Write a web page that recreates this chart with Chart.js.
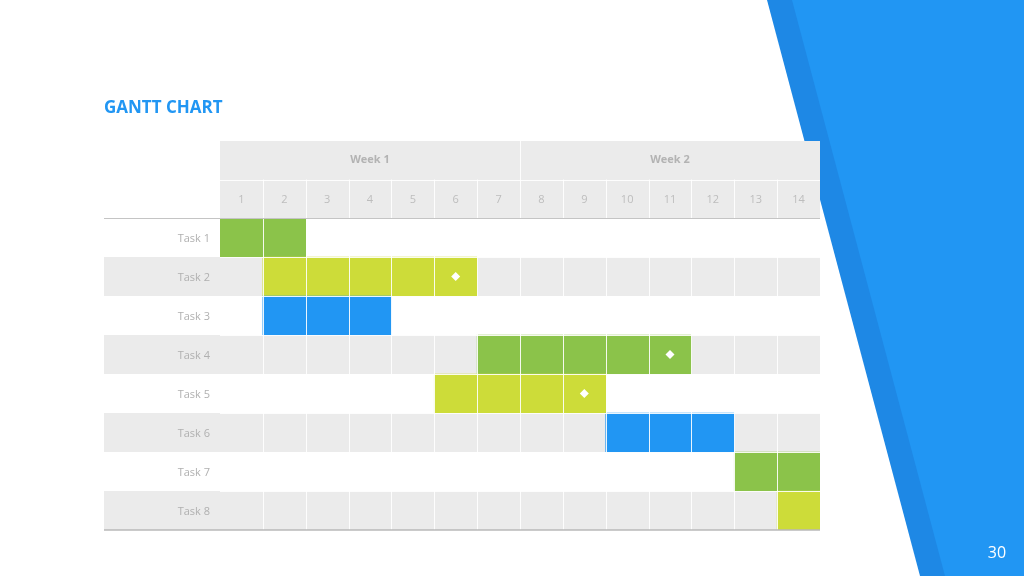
<!DOCTYPE html>
<html>
<head>
<meta charset="utf-8">
<script src="https://cdn.jsdelivr.net/npm/chart.js@4"></script>
<style>
  html, body { margin: 0; padding: 0; background: #fff; }
  canvas { display: block; }
</style>
</head>
<body>
<canvas id="gantt" width="1024" height="576"></canvas>
<script>
const tasks = ["Task 1", "Task 2", "Task 3", "Task 4", "Task 5", "Task 6", "Task 7", "Task 8"];
const taskStart = [0, 1, 1, 6, 5, 9, 12, 13];
const taskEnd = [2, 6, 4, 11, 9, 12, 14, 14];
const days = ["1", "2", "3", "4", "5", "6", "7", "8", "9", "10", "11", "12", "13", "14"];
const weeks = ["Week 1", "Week 2"];
const milestoneTask = ["Task 2", "Task 4", "Task 5"];
const milestoneDay = [6, 11, 9];

const GREEN = "#8bc34a";
const LIME = "#cddc39";
const BLUE = "#2196f3";
const taskColors = [GREEN, LIME, BLUE, GREEN, LIME, BLUE, GREEN, LIME];

const FONT = "'Open Sans', 'Noto Sans', sans-serif";
const TABLE_LEFT = 104;
const HEADER_TOP = 141;

const ctx = document.getElementById("gantt").getContext("2d");

// background slide decoration + table drawing
const ganttTable = {
  id: "ganttTable",
  beforeDraw(chart) {
    const c = chart.ctx;
    c.save();
    c.fillStyle = "#fff";
    c.fillRect(0, 0, chart.width, chart.height);
    // dark stripe
    c.fillStyle = "#1e88e5";
    c.beginPath();
    c.moveTo(767, 0);
    c.lineTo(1024, 0);
    c.lineTo(1024, 576);
    c.lineTo(920, 576);
    c.closePath();
    c.fill();
    // main blue shape
    c.fillStyle = "#2196f3";
    c.beginPath();
    c.moveTo(792, 0);
    c.lineTo(1024, 0);
    c.lineTo(1024, 576);
    c.lineTo(945, 576);
    c.closePath();
    c.fill();
    c.restore();
  },
  beforeDatasetsDraw(chart) {
    const c = chart.ctx;
    const { left, right, top } = chart.chartArea;
    const y = chart.scales.y;
    const rowH = y.getPixelForValue(1) - y.getPixelForValue(0);
    c.save();
    // header
    c.fillStyle = "#ebebeb";
    c.fillRect(left, HEADER_TOP, right - left, top - HEADER_TOP);
    // striped rows
    tasks.forEach((t, i) => {
      if (i % 2 === 1) {
        const cy = y.getPixelForValue(i);
        c.fillRect(TABLE_LEFT, cy - rowH / 2, right - TABLE_LEFT, rowH);
      }
    });
    c.restore();
  },
  afterDatasetsDraw(chart) {
    const c = chart.ctx;
    const { left, right, top, bottom } = chart.chartArea;
    const x = chart.scales.x;
    const y = chart.scales.y;
    const rowH = y.getPixelForValue(1) - y.getPixelForValue(0);
    const midHeader = (HEADER_TOP + top) / 2;
    c.save();
    // white cell separators
    c.strokeStyle = "rgba(255,255,255,0.9)";
    c.lineWidth = 1;
    c.beginPath();
    for (let d = 1; d < days.length; d++) {
      const px = Math.round(x.getPixelForValue(d)) + 0.5;
      c.moveTo(px, d === 7 ? HEADER_TOP : midHeader);
      c.lineTo(px, bottom);
    }
    c.moveTo(left, Math.round(midHeader) + 0.5);
    c.lineTo(right, Math.round(midHeader) + 0.5);
    for (let i = 1; i < tasks.length; i++) {
      const py = Math.round(y.getPixelForValue(i) - rowH / 2) + 0.5;
      c.moveTo(left, py);
      c.lineTo(right, py);
    }
    c.stroke();

    // gray rules
    c.strokeStyle = "#c4c4c4";
    c.beginPath();
    c.moveTo(TABLE_LEFT, Math.round(top) + 0.5);
    c.lineTo(right, Math.round(top) + 0.5);
    c.stroke();
    c.strokeStyle = "#b8b8b8";
    c.lineWidth = 1.5;
    c.beginPath();
    c.moveTo(TABLE_LEFT, bottom);
    c.lineTo(right, bottom);
    c.stroke();

    // header texts
    c.textBaseline = "middle";
    c.textAlign = "center";
    c.fillStyle = "#b3b3b3";
    c.font = "bold 11px " + FONT;
    weeks.forEach((w, i) => {
      const cx = (x.getPixelForValue(i * 7) + x.getPixelForValue(i * 7 + 7)) / 2;
      c.fillText(w, cx, (HEADER_TOP + midHeader) / 2);
    });
    c.fillStyle = "#bdbdbd";
    c.font = "11px " + FONT;
    days.forEach((d, i) => {
      c.fillText(d, x.getPixelForValue(i + 0.5), (midHeader + top) / 2 + 1);
    });

    // task labels
    c.textAlign = "right";
    c.fillStyle = "#b0b0b0";
    tasks.forEach((t, i) => {
      c.fillText(t, left - 10, y.getPixelForValue(i) + 1);
    });

    // title
    c.textAlign = "left";
    c.fillStyle = "#2196f3";
    c.font = "bold 17px " + FONT;
    c.fillText("GANTT CHART", TABLE_LEFT, 108);

    // page number
    c.textAlign = "center";
    c.fillStyle = "#fff";
    c.font = "16px " + FONT;
    c.fillText("30", 997, 553);
    c.restore();
  },
};

new Chart(ctx, {
  type: "bar",
  data: {
    labels: tasks,
    datasets: [
      {
        data: tasks.map((t, i) => [taskStart[i], taskEnd[i]]),
        backgroundColor: taskColors,
        borderWidth: 0,
        borderSkipped: false,
        barPercentage: 1,
        categoryPercentage: 1,
        order: 2,
      },
      {
        type: "scatter",
        data: milestoneTask.map((t, i) => ({ x: milestoneDay[i] - 0.5, y: t })),
        pointStyle: "rectRot",
        pointRadius: 4.5,
        pointBackgroundColor: "#fff",
        pointBorderWidth: 0,
        order: 1,
      },
    ],
  },
  options: {
    indexAxis: "y",
    responsive: false,
    animation: false,
    layout: {
      padding: { left: 220, right: 204, top: 218, bottom: 46 },
    },
    plugins: {
      legend: { display: false },
      tooltip: { enabled: false },
    },
    scales: {
      x: { type: "linear", min: 0, max: 14, display: false },
      y: { type: "category", labels: tasks, display: false },
    },
  },
  plugins: [ganttTable],
});
</script>
</body>
</html>
